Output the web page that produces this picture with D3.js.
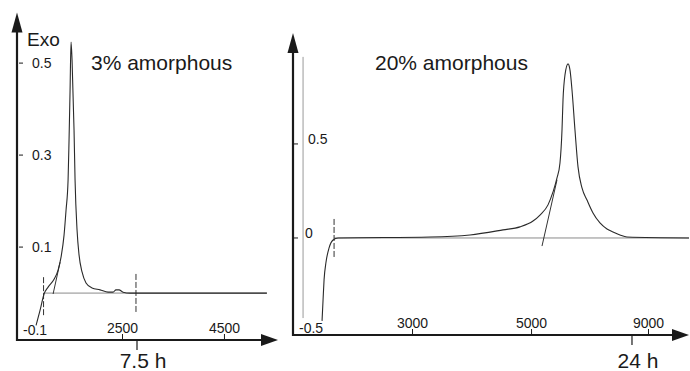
<!DOCTYPE html>
<html>
<head>
<meta charset="utf-8">
<script src="https://cdn.jsdelivr.net/npm/d3@7"></script>
<style>
  body { margin: 0; background: #fff; }
  svg { display: block; font-family: "Liberation Sans", Arial, sans-serif; }
</style>
</head>
<body>
<svg id="chart" width="690" height="371"></svg>
<script>
// values: [time units, heat flow]
const leftCurve = [[814,-0.070],[893,-0.037],[971,-0.002],[1050,0.013],[1167,0.030],[1246,0.050],
  [1304,0.078],[1363,0.126],[1402,0.180],[1442,0.246],[1461,0.333],[1481,0.441],[1500,0.546],
  [1520,0.507],[1559,0.354],[1579,0.246],[1618,0.137],[1657,0.083],[1716,0.046],[1794,0.022],
  [1912,0.011],[2069,0.007],[2226,0.002],[2324,0.002],[2382,0.007],[2441,0.007],[2520,0.002],
  [2657,0],[5342,0]];
const leftTangent = [[1148,-0.002],[1285,0.067]];
const leftBaseline = [[952,0],[5342,0]];
const leftMarkers = [[961,-0.048,0.039],[2774,-0.041,0.045]];
const leftXTicks = [2500, 4500];
const leftYTicks = [0.5, 0.3, 0.1];
const leftXDomain = [440, 5560];
const leftYDomain = [-0.102, 0.61];

const rightSpike = [[1169,0.963],[1169,-0.426]];
const rightCurve = [[1488,-0.441],[1505,-0.330],[1522,-0.223],[1555,-0.128],[1606,-0.053],[1673,-0.011],
  [1757,0],[3302,0.005],[3974,0.016],[4529,0.043],[4814,0.059],[5033,0.090],[5150,0.122],[5285,0.176],
  [5369,0.245],[5436,0.319],[5486,0.399],[5520,0.574],[5537,0.734],[5570,0.867],[5621,0.926],
  [5654,0.894],[5688,0.787],[5738,0.574],[5789,0.378],[5856,0.266],[5940,0.202],[6041,0.133],
  [6158,0.080],[6276,0.048],[6377,0.032],[6494,0.016],[6612,0.005],[7654,0]];
const rightTangent = [[5184,-0.043],[5436,0.309]];
const rightBaseline = [[1690,0],[7654,0]];
const rightMarkers = [[1690,-0.101,0.106]];
const rightXTicks = [3000, 5000, 6965];
const rightXTickLabels = ['3000', '5000', '9000'];
const rightYTicks = [0.5, 0];
const rightXDomain = [1000, 7654];
const rightYDomain = [-0.516, 1.09];

const hourMarks = [{ panel: 'left', t: 2794, label: '7.5 h' }, { panel: 'right', t: 6696, label: '24 h' }];

const svg = d3.select('#chart');
const ink = '#1a1a1a';
const font = '"Liberation Sans", Arial, sans-serif';

const panels = {
  left: {
    x: d3.scaleLinear().domain(leftXDomain).range([17, 278]),
    y: d3.scaleLinear().domain(leftYDomain).range([340, 12.5])
  },
  right: {
    x: d3.scaleLinear().domain(rightXDomain).range([293, 689]),
    y: d3.scaleLinear().domain(rightYDomain).range([335, 33])
  }
};

function drawAxes(p, xDom, yDom) {
  const x0 = p.x(xDom[0]), x1 = p.x(xDom[1]);
  const y0 = p.y(yDom[0]), y1 = p.y(yDom[1]);
  const g = svg.append('g');
  g.append('line').attr('x1', x0).attr('x2', x1 - 10).attr('y1', y0).attr('y2', y0)
    .attr('stroke', ink).attr('stroke-width', 2.2);
  g.append('line').attr('x1', x0).attr('x2', x0).attr('y1', y0 + 1).attr('y2', y1 + 12)
    .attr('stroke', ink).attr('stroke-width', 2.2);
  // arrow heads
  g.append('path').attr('d', `M${x1},${y0} L${x1 - 17},${y0 - 6} L${x1 - 17},${y0 + 6} Z`).attr('fill', ink);
  g.append('path').attr('d', `M${x0},${y1} L${x0 - 5.5},${y1 + 20} L${x0 + 5.5},${y1 + 20} Z`).attr('fill', ink);
  return { x0, y0 };
}

function drawSeries(p, pts, color, width, dash) {
  const line = d3.line().x(d => p.x(d[0])).y(d => p.y(d[1])).curve(d3.curveMonotoneX);
  svg.append('path').datum(pts).attr('d', line)
    .attr('fill', 'none').attr('stroke', color).attr('stroke-width', width)
    .attr('stroke-dasharray', dash || null);
}

function drawMarkers(p, marks) {
  svg.append('g').selectAll('line').data(marks).join('line')
    .attr('x1', d => p.x(d[0])).attr('x2', d => p.x(d[0]))
    .attr('y1', d => p.y(d[1])).attr('y2', d => p.y(d[2]))
    .attr('stroke', '#333').attr('stroke-width', 1).attr('stroke-dasharray', '6,2');
}

function styleAxis(g) {
  g.attr('font-family', font).attr('font-size', 14);
  g.select('.domain').remove();
  g.selectAll('line').attr('stroke', ink);
  g.selectAll('text').attr('fill', ink);
}

// ---- left panel ----
const L = panels.left;
const la = drawAxes(L, leftXDomain, leftYDomain);
drawSeries(L, leftBaseline, '#8a8a8a', 1);
drawMarkers(L, leftMarkers);
drawSeries(L, leftTangent, '#333', 1);
drawSeries(L, leftCurve, '#2a2a2a', 1.1);

svg.append('g').attr('transform', `translate(0,${la.y0})`)
  .call(d3.axisTop(L.x).tickValues(leftXTicks).tickSize(6).tickPadding(1).tickFormat(d3.format('d')))
  .call(styleAxis);

const lyt = svg.append('g').selectAll('g').data(leftYTicks).join('g');
lyt.append('line').attr('x1', la.x0 + 2).attr('x2', la.x0 + 6)
  .attr('y1', d => L.y(d)).attr('y2', d => L.y(d)).attr('stroke', ink);
lyt.append('text').attr('x', 32).attr('y', d => L.y(d) + 5)
  .attr('font-size', 14).attr('fill', ink).text(d => d3.format('.1f')(d));
svg.append('text').attr('x', 23).attr('y', la.y0 - 5).attr('font-size', 14).attr('fill', ink).text('-0.1');

svg.append('text').attr('x', 27).attr('y', 46).attr('font-size', 19).attr('fill', ink).text('Exo');
svg.append('text').attr('x', 91).attr('y', 70).attr('font-size', 21).attr('fill', ink).text('3% amorphous');

// ---- right panel ----
const R = panels.right;
const ra = drawAxes(R, rightXDomain, rightYDomain);
drawSeries(R, rightBaseline, '#8a8a8a', 1);
drawMarkers(R, rightMarkers);
svg.append('path').datum(rightSpike)
  .attr('d', d3.line().x(d => R.x(d[0])).y(d => R.y(d[1])))
  .attr('fill', 'none').attr('stroke', '#9a9a9a').attr('stroke-width', 1);
drawSeries(R, rightTangent, '#333', 1);
drawSeries(R, rightCurve, '#2a2a2a', 1.1);

svg.append('g').attr('transform', `translate(0,${ra.y0})`)
  .call(d3.axisTop(R.x).tickValues(rightXTicks).tickSize(6).tickPadding(1)
    .tickFormat((d, i) => rightXTickLabels[i]))
  .call(styleAxis);

const ryt = svg.append('g').selectAll('g').data(rightYTicks).join('g');
ryt.append('line').attr('x1', ra.x0).attr('x2', ra.x0 + 5)
  .attr('y1', d => R.y(d)).attr('y2', d => R.y(d)).attr('stroke', ink);
ryt.append('text').attr('x', d => d === 0 ? 305 : 308).attr('y', d => R.y(d))
  .attr('font-size', 14).attr('fill', ink).text(d => d === 0 ? '0' : d3.format('.1f')(d));
svg.append('text').attr('x', 299).attr('y', ra.y0 - 2).attr('font-size', 14).attr('fill', ink).text('-0.5');

svg.append('text').attr('x', 375).attr('y', 70).attr('font-size', 21).attr('fill', ink).text('20% amorphous');

// ---- hour marks under the time axes ----
hourMarks.forEach(h => {
  const p = panels[h.panel];
  const ay = h.panel === 'left' ? la.y0 : ra.y0;
  const x = p.x(h.t);
  svg.append('line').attr('x1', x).attr('x2', x).attr('y1', ay + 1).attr('y2', ay + 10)
    .attr('stroke', ink).attr('stroke-width', 1.2);
  svg.append('text').attr('x', x + 6).attr('y', 368).attr('text-anchor', 'middle')
    .attr('font-size', 21).attr('fill', ink).text(h.label);
});
</script>
</body>
</html>
